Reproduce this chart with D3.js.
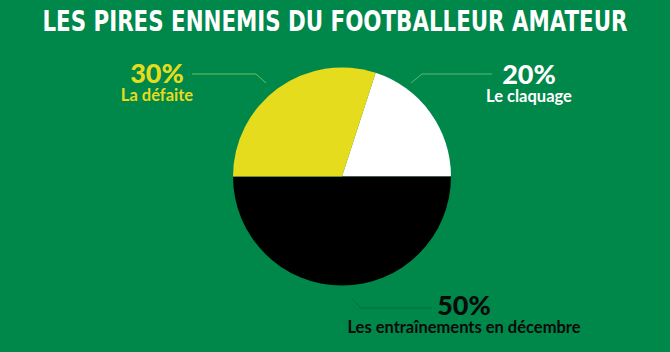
<!DOCTYPE html>
<html><head><meta charset="utf-8">
<script src="https://cdn.jsdelivr.net/npm/d3@7"></script>
<style>html,body{margin:0;padding:0;background:#00874a;}svg{display:block}</style>
</head><body>
<svg id="c" width="670" height="352"></svg>
<script>
const title = "LES PIRES ENNEMIS DU FOOTBALLEUR AMATEUR";
const categories = ["Le claquage", "Les entraînements en décembre", "La défaite"];
const values = [20, 50, 30];
const colors = ["#ffffff", "#000000", "#e6dc1e"];
const labelColors = ["#ffffff", "#0a0a0a", "#e6dc1e"];

const W = 670, H = 352;
const svg = d3.select("#c");
svg.append("rect").attr("width", W).attr("height", H).attr("fill", "#00874a");

svg.append("text").text(title)
  .attr("x", 335).attr("y", 31).attr("text-anchor", "middle")
  .attr("font-family", "DejaVu Sans Condensed, DejaVu Sans").attr("font-weight", "bold")
  .attr("font-size", 28).attr("fill", "#ffffff")
  .attr("textLength", 585).attr("lengthAdjust", "spacingAndGlyphs");

const cx = 342, cy = 176.5, r = 109;
const pie = d3.pie().sort(null).startAngle(Math.PI * 0.1).endAngle(Math.PI * 2.1);
const arcs = pie(values);
const arc = d3.arc().innerRadius(0).outerRadius(r);
const g = svg.append("g").attr("transform", `translate(${cx},${cy})`);
g.selectAll("path").data(arcs).enter().append("path")
  .attr("d", arc).attr("fill", (d, i) => colors[i]);

// leader lines & labels
const labelPos = [
  { lx: 529, ly: 84, line: [[411, 83], [422, 74], [492, 74]], lc: "#5cb87a" },
  { lx: 464, ly: 315, line: [[352, 299], [361, 308], [432, 308]], lc: "#0b6a36" },
  { lx: 157, ly: 83, line: [[192, 74], [256, 74], [266, 83]], lc: "#6dbf6a" }
];
arcs.forEach((d, i) => {
  const p = labelPos[i];
  svg.append("path").attr("d", d3.line()(p.line))
    .attr("fill", "none").attr("stroke", p.lc).attr("stroke-width", 1);
  svg.append("text").text(values[i] + "%")
    .attr("x", p.lx).attr("y", p.ly).attr("text-anchor", "middle")
    .attr("font-family", "Lato, sans-serif").attr("font-weight", 900)
    .attr("font-size", 27).attr("fill", labelColors[i]);
  svg.append("text").text(categories[i])
    .attr("x", p.lx).attr("y", p.ly + 18).attr("text-anchor", "middle")
    .attr("font-family", "Lato, sans-serif").attr("font-weight", "bold")
    .attr("font-size", 16.5).attr("fill", labelColors[i]);
});
</script>
</body></html>
